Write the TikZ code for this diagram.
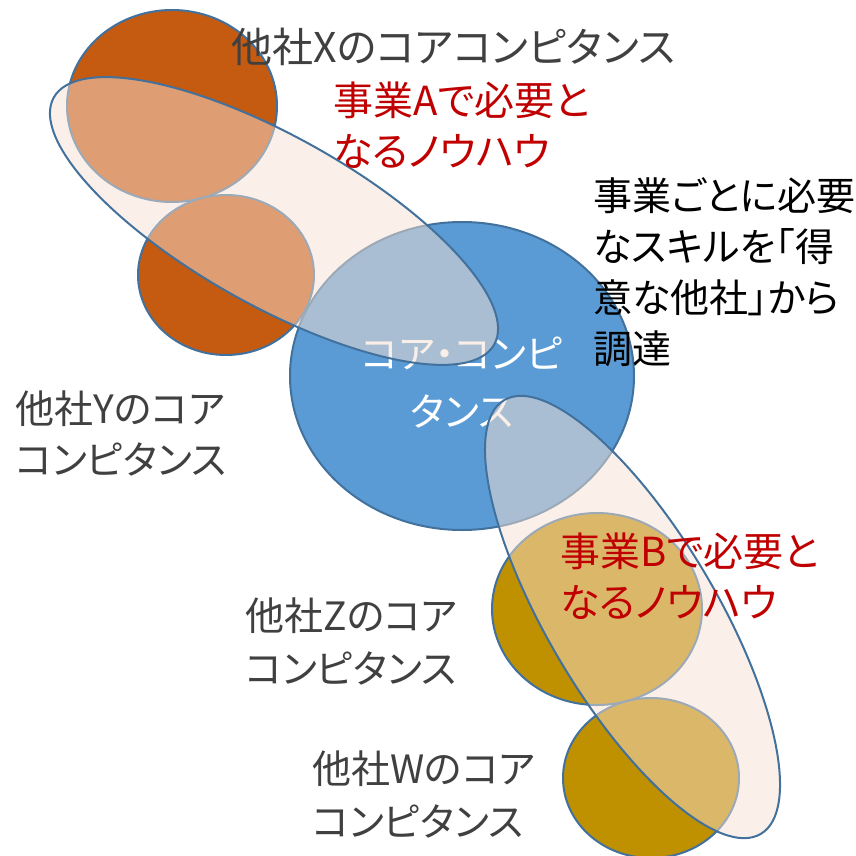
\documentclass[tikz,border=0pt]{standalone}
\usepackage{fontspec}
\setmainfont{Noto Sans CJK JP}[RawFeature={+palt}]
\usetikzlibrary{shapes.geometric}
\definecolor{orangeC}{HTML}{C55A11}
\definecolor{goldC}{HTML}{BF9000}
\definecolor{blueC}{HTML}{5B9BD5}
\definecolor{edgeC}{HTML}{41719C}
\definecolor{peachC}{HTML}{F7E1D3}
\definecolor{grayT}{HTML}{404040}
\definecolor{redT}{HTML}{C00000}
\tikzset{
  ball/.style={ellipse, draw=edgeC, line width=2pt, inner sep=0pt},
  band/.style={draw=edgeC, line width=2pt, fill=peachC, fill opacity=0.5},
  lbl/.style={anchor=base west, align=left, inner sep=0pt, font=\fontsize{39}{51}\selectfont},
  redlbl/.style={lbl, text=redT, font=\fontsize{40}{51}\selectfont},
}
\begin{document}
\begin{tikzpicture}[x=1pt,y=-1pt]
\useasboundingbox (0,0) rectangle (856,856);
\clip (0,0) rectangle (856,856);
% company circles
\node[ball, fill=orangeC, minimum width=210pt, minimum height=192pt] (cx) at (172,106) {};
\node[ball, fill=orangeC, minimum width=176pt, minimum height=160pt] (cy) at (226,275) {};
\node[ball, fill=blueC, minimum width=344pt, minimum height=308pt] (core) at (462,376) {};
\node[text=white, align=center, inner sep=0pt, anchor=base,
      font=\fontsize{39}{58}\selectfont] (coretext) at (462,426) {コア・コンピ\\タンス};
\node[ball, fill=goldC, minimum width=210pt, minimum height=192pt] (cz) at (597,609) {};
\node[ball, fill=goldC, minimum width=176pt, minimum height=160pt] (cw) at (651,778) {};
% business bands
\coordinate (ea) at (274,221);
\coordinate (eb) at (632.5,617);
\path[band, rotate around={-29.3:(ea)}] (ea) ellipse [x radius=252.5, y radius=84.5];
\path[band, rotate around={-59.4:(eb)}] (eb) ellipse [x radius=252, y radius=84.6];
% labels
\node[lbl, text=grayT, font=\fontsize{41}{51}\selectfont] (tx) at (231,63) {他社Xのコアコンピタンス};
\node[redlbl] (ta) at (333,166) {事業Aで必要と\\なるノウハウ};
\node[lbl, text=black] (tr) at (593,363) {事業ごとに必要\\なスキルを「得\\意な他社」から\\調達};
\node[lbl, text=grayT] (ty) at (15,474) {他社Yのコア\\コンピタンス};
\node[redlbl] (tb) at (560,617) {事業Bで必要と\\なるノウハウ};
\node[lbl, text=grayT, font=\fontsize{39}{53}\selectfont] (tz) at (245,683) {他社Zのコア\\コンピタンス};
\node[lbl, text=grayT, font=\fontsize{39}{53}\selectfont] (tw) at (312,836) {他社Wのコア\\コンピタンス};
\end{tikzpicture}
\end{document}
